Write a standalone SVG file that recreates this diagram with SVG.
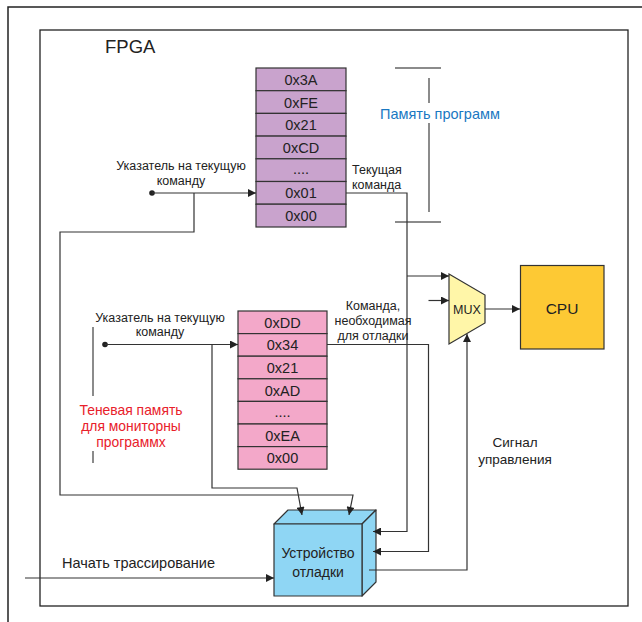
<svg xmlns="http://www.w3.org/2000/svg" width="642" height="622" viewBox="0 0 642 622">
<defs>
<marker id="ah" viewBox="0 0 10 10" refX="10" refY="5" markerWidth="10" markerHeight="8" markerUnits="userSpaceOnUse" orient="auto">
<path d="M0,0 L10,5 L0,10 Z" fill="#222"/>
</marker>
<style>
text{font-family:"Liberation Sans",Arial,sans-serif;fill:#222;}
.cell{stroke:#333;stroke-width:1.2;}
.pm{fill:#c9a3cd;}
.sm{fill:#f3a8c9;}
.ct{font-size:14.5px;text-anchor:middle;}
.lbl{font-size:12.5px;text-anchor:middle;}
.ln{fill:none;stroke:#333;stroke-width:1.2;}
.br{fill:none;stroke:#666;stroke-width:1.5;}
.dev{fill:#8fd6f4;stroke:#333;stroke-width:1.2;stroke-linejoin:round;}
.red{font-size:13.9px;text-anchor:middle;fill:#e8202a;}
</style>
</defs>
<rect width="642" height="622" fill="#fff"/>
<path d="M8,622 V7 H642" fill="none" stroke="#222" stroke-width="1.5"/>
<rect x="40" y="30" width="588" height="576" fill="none" stroke="#222" stroke-width="1.3"/>
<text x="105" y="52.5" style="font-size:18.5px">FPGA</text>

<g id="program-memory">
<rect class="cell pm" x="256" y="68" width="90" height="22.7"/>
<rect class="cell pm" x="256" y="90.7" width="90" height="22.7"/>
<rect class="cell pm" x="256" y="113.4" width="90" height="22.7"/>
<rect class="cell pm" x="256" y="136.1" width="90" height="22.7"/>
<rect class="cell pm" x="256" y="158.8" width="90" height="22.7"/>
<rect class="cell pm" x="256" y="181.5" width="90" height="22.7"/>
<rect class="cell pm" x="256" y="204.2" width="90" height="22.8"/>
<text class="ct" x="301" y="84.8">0x3A</text>
<text class="ct" x="301" y="107.5">0xFE</text>
<text class="ct" x="301" y="130.2">0x21</text>
<text class="ct" x="301" y="152.9">0xCD</text>
<text class="ct" x="301" y="174">....</text>
<text class="ct" x="301" y="198.3">0x01</text>
<text class="ct" x="301" y="221">0x00</text>
</g>

<g id="program-memory-label">
<path class="br" d="M395,68 H441 M429,78 V103 M429,123 V212 M395,222 H441"/>
<text x="440" y="119" style="font-size:14.5px;text-anchor:middle;fill:#1a78c2">Память программ</text>
</g>

<g id="shadow-memory">
<rect class="cell sm" x="238" y="311" width="89" height="22.6"/>
<rect class="cell sm" x="238" y="333.6" width="89" height="22.6"/>
<rect class="cell sm" x="238" y="356.2" width="89" height="22.6"/>
<rect class="cell sm" x="238" y="378.8" width="89" height="22.6"/>
<rect class="cell sm" x="238" y="401.4" width="89" height="22.6"/>
<rect class="cell sm" x="238" y="424" width="89" height="22.6"/>
<rect class="cell sm" x="238" y="446.6" width="89" height="22.6"/>
<text class="ct" x="282.5" y="327.7">0xDD</text>
<text class="ct" x="282.5" y="350.3">0x34</text>
<text class="ct" x="282.5" y="372.9">0x21</text>
<text class="ct" x="282.5" y="395.5">0xAD</text>
<text class="ct" x="282.5" y="416.5">....</text>
<text class="ct" x="282.5" y="440.7">0xEA</text>
<text class="ct" x="282.5" y="463.3">0x00</text>
</g>

<g id="shadow-memory-label">
<path class="br" d="M93,327 V396 M93,451 V463"/>
<text class="red" x="131" y="415">Теневая память</text>
<text class="red" x="131" y="431">для мониторны</text>
<text class="red" x="131" y="447">программх</text>
</g>

<g id="mux">
<polygon points="449,274 485,295 485,323 449,344" fill="#fff6a8" stroke="#333" stroke-width="1.2"/>
<text x="467" y="313.5" style="font-size:12.5px;text-anchor:middle">MUX</text>
</g>

<g id="cpu">
<rect x="520.5" y="265.5" width="83.5" height="83.5" fill="#fdc934" stroke="#333" stroke-width="1.2"/>
<text x="562" y="313.5" style="font-size:15.5px;text-anchor:middle">CPU</text>
</g>

<g id="debug-device">
<polygon class="dev" points="274,524 288,510 376,510 362,524"/>
<polygon class="dev" points="362,524 376,510 376,582 362,596"/>
<rect class="dev" x="274" y="524" width="88" height="72"/>
<text x="318" y="558" style="font-size:14px;text-anchor:middle">Устройство</text>
<text x="318" y="577" style="font-size:14px;text-anchor:middle">отладки</text>
</g>

<g id="connectors">
<circle cx="152" cy="193" r="2.8" fill="#222"/>
<path class="ln" d="M152,193 H256" marker-end="url(#ah)"/>
<path class="ln" d="M194,193 V232 H60 V495 H353 L349,515" marker-end="url(#ah)"/>
<circle cx="105" cy="344.5" r="2.8" fill="#222"/>
<path class="ln" d="M105,344.5 H238" marker-end="url(#ah)"/>
<path class="ln" d="M212,344.5 V488 H297 L302,515" marker-end="url(#ah)"/>
<path class="ln" d="M346,193 H407 V531.5 H373" marker-end="url(#ah)"/>
<path class="ln" d="M407,276 H449" marker-end="url(#ah)"/>
<path class="ln" d="M327,344.5 H428.5 V551.5 H373" marker-end="url(#ah)"/>
<path class="ln" d="M428.5,300.5 H449" marker-end="url(#ah)"/>
<path class="ln" d="M485,309 H520" marker-end="url(#ah)"/>
<path class="ln" d="M369,570 H467 V334" marker-end="url(#ah)"/>
<path class="ln" d="M25,578 H274" marker-end="url(#ah)"/>
</g>

<g id="labels">
<text class="lbl" x="181" y="170">Указатель на текущую</text>
<text class="lbl" x="181" y="185">команду</text>
<text x="352" y="174" style="font-size:12.5px">Текущая</text>
<text x="352" y="189" style="font-size:12.5px">команда</text>
<text class="lbl" x="160" y="321.5">Указатель на текущую</text>
<text class="lbl" x="160" y="336">команду</text>
<text class="lbl" x="373" y="310">Команда,</text>
<text class="lbl" x="373" y="325">необходимая</text>
<text class="lbl" x="373" y="340">для отладки</text>
<text x="515" y="447" style="font-size:13.5px;text-anchor:middle">Сигнал</text>
<text x="515" y="464" style="font-size:13.5px;text-anchor:middle">управления</text>
<text x="62" y="568" style="font-size:14.5px">Начать трассирование</text>
</g>
</svg>
